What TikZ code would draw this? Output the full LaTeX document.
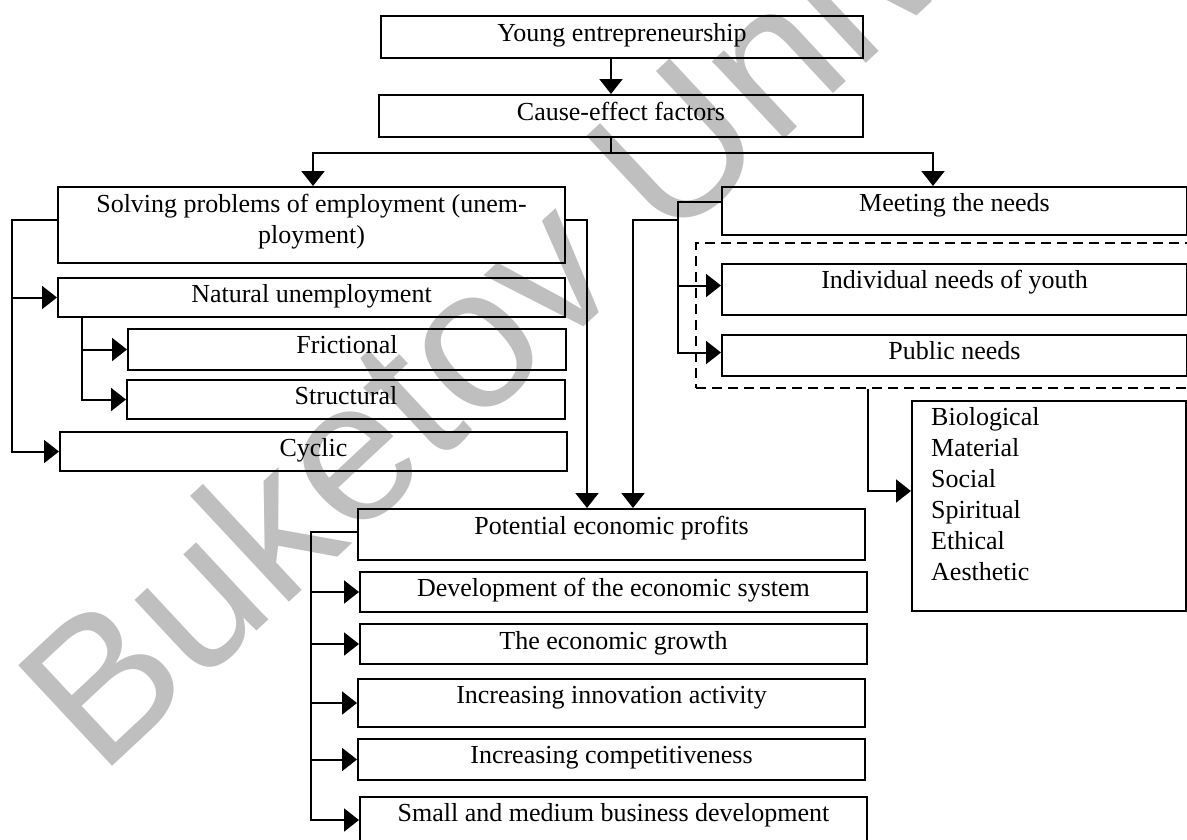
\documentclass[tikz,border=0pt]{standalone}
\usepackage{fontspec}
\setmainfont{Liberation Serif}
\newfontfamily\wmfont{Liberation Sans}
\usetikzlibrary{arrows.meta}
\begin{document}
\begin{tikzpicture}[x=1pt,y=-1pt,
  box/.style={draw, line width=2pt, rectangle, inner sep=0pt, anchor=north west},
  grpbox/.style={draw, line width=2pt, dash pattern=on 10pt off 6pt, rectangle, inner sep=0pt, anchor=north west},
  lbl/.style={font=\fontsize{26}{31}\selectfont, anchor=base, inner sep=0pt},
  conn/.style={line width=2pt},
  arr/.style={line width=2pt, -{Triangle[length=15pt,width=23pt]}},
  wm/.style={rotate=43, anchor=base west, inner sep=0pt, text=black!25, font=\wmfont\fontsize{200}{200}\selectfont}
]
\useasboundingbox (0,0) rectangle (1187,839);

% watermark
\node[wm] (wmark) at (100,778) {Buketov Univ};

% boxes
\node[box, minimum width=482pt, minimum height=42pt] (young) at (380,15) {};
\node[box, minimum width=484pt, minimum height=42pt] (cause) at (378,94) {};
\node[box, minimum width=507pt, minimum height=76pt] (solving) at (57,186) {};
\node[box, minimum width=507pt, minimum height=39pt] (natural) at (57,277) {};
\node[box, minimum width=438pt, minimum height=41pt] (frictional) at (127,328) {};
\node[box, minimum width=438pt, minimum height=39pt] (structural) at (126,379) {};
\node[box, minimum width=507pt, minimum height=39pt] (cyclic) at (59,431) {};
\node[box, minimum width=465pt, minimum height=48pt] (meeting) at (721,186) {};
\node[grpbox, minimum width=497pt, minimum height=145pt] (grp) at (695,242) {};
\node[box, minimum width=465pt, minimum height=51pt] (individual) at (721,263) {};
\node[box, minimum width=465pt, minimum height=41pt] (public) at (721,334) {};
\node[box, minimum width=274pt, minimum height=210pt] (list) at (911,400) {};
\node[box, minimum width=507pt, minimum height=51pt] (potential) at (357,508) {};
\node[box, minimum width=507pt, minimum height=40pt] (development) at (359,571) {};
\node[box, minimum width=507pt, minimum height=40pt] (growth) at (359,623) {};
\node[box, minimum width=507pt, minimum height=48pt] (innovation) at (357,678) {};
\node[box, minimum width=507pt, minimum height=41pt] (competitiveness) at (357,738) {};
\node[box, minimum width=507pt, minimum height=46pt] (small) at (359,796) {};

% labels
\node[lbl] at ([yshift=-26pt]young.north) {Young entrepreneurship};
\node[lbl] at ([yshift=-26pt]cause.north) {Cause-effect factors};
\node[lbl] at ([yshift=-26pt]solving.north) {Solving problems of employment (unem-};
\node[lbl] at ([yshift=-57pt]solving.north) {ployment)};
\node[lbl] at ([yshift=-25pt]natural.north) {Natural unemployment};
\node[lbl] at ([yshift=-25pt]frictional.north) {Frictional};
\node[lbl] at ([yshift=-25pt]structural.north) {Structural};
\node[lbl] at ([yshift=-25pt]cyclic.north) {Cyclic};
\node[lbl] at ([yshift=-25pt]meeting.north) {Meeting the needs};
\node[lbl] at ([yshift=-25pt]individual.north) {Individual needs of youth};
\node[lbl] at ([yshift=-25pt]public.north) {Public needs};
\node[lbl] at ([yshift=-26pt]potential.north) {Potential economic profits};
\node[lbl] at ([yshift=-25pt]development.north) {Development of the economic system};
\node[lbl] at ([yshift=-26pt]growth.north) {The economic growth};
\node[lbl] at ([yshift=-25pt]innovation.north) {Increasing innovation activity};
\node[lbl] at ([yshift=-25pt]competitiveness.north) {Increasing competitiveness};
\node[lbl] at ([yshift=-25pt]small.north) {Small and medium business development};
\node[font=\fontsize{26}{31}\selectfont, align=left, anchor=north west, inner sep=0pt] (listtext) at (931,407)
  {Biological\\Material\\Social\\Spiritual\\Ethical\\Aesthetic};

% connectors
\coordinate (tx) at (611,153);
\coordinate (sl) at (313,153);
\coordinate (sr) at (933,153);
\draw[arr] (young.south -| tx) -- (cause.north -| tx);
\draw[conn] (cause.south -| tx) -- (tx);
\draw[arr] (tx) -- (sl) -- (solving.north -| sl);
\draw[arr] (tx) -- (sr) -- (meeting.north -| sr);

\coordinate (bl) at (12,220);
\draw[arr] (solving.west |- bl) -- (bl) |- (cyclic.west);
\draw[arr] (bl |- natural.west) -- (natural.west);

\coordinate (bn) at (82,316);
\draw[arr] (natural.south -| bn) |- (structural.west);
\draw[arr] (bn |- frictional.west) -- (frictional.west);

\coordinate (br) at (587,220);
\draw[arr] (solving.east |- br) -- (br) -- (br |- potential.north);

\coordinate (bm) at (678,202);
\coordinate (ia) at ([yshift=4pt]individual.west);
\coordinate (pa) at ([yshift=3pt]public.west);
\draw[arr] (meeting.west |- bm) -- (bm) |- (pa);
\draw[arr] (bm |- ia) -- (ia);
\coordinate (bp) at (633,220);
\draw[arr] (bm |- bp) -- (bp) -- (bp |- potential.north);

\coordinate (bd) at (868,491);
\draw[arr] (grp.south -| bd) -- (bd) -- (list.west |- bd);

\coordinate (bq) at (311,532);
\draw[arr] (potential.west |- bq) -- (bq) |- (small.west);
\draw[arr] (bq |- development.west) -- (development.west);
\draw[arr] (bq |- growth.west) -- (growth.west);
\draw[arr] (bq |- innovation.west) -- (innovation.west);
\draw[arr] (bq |- competitiveness.west) -- (competitiveness.west);
\end{tikzpicture}
\end{document}
